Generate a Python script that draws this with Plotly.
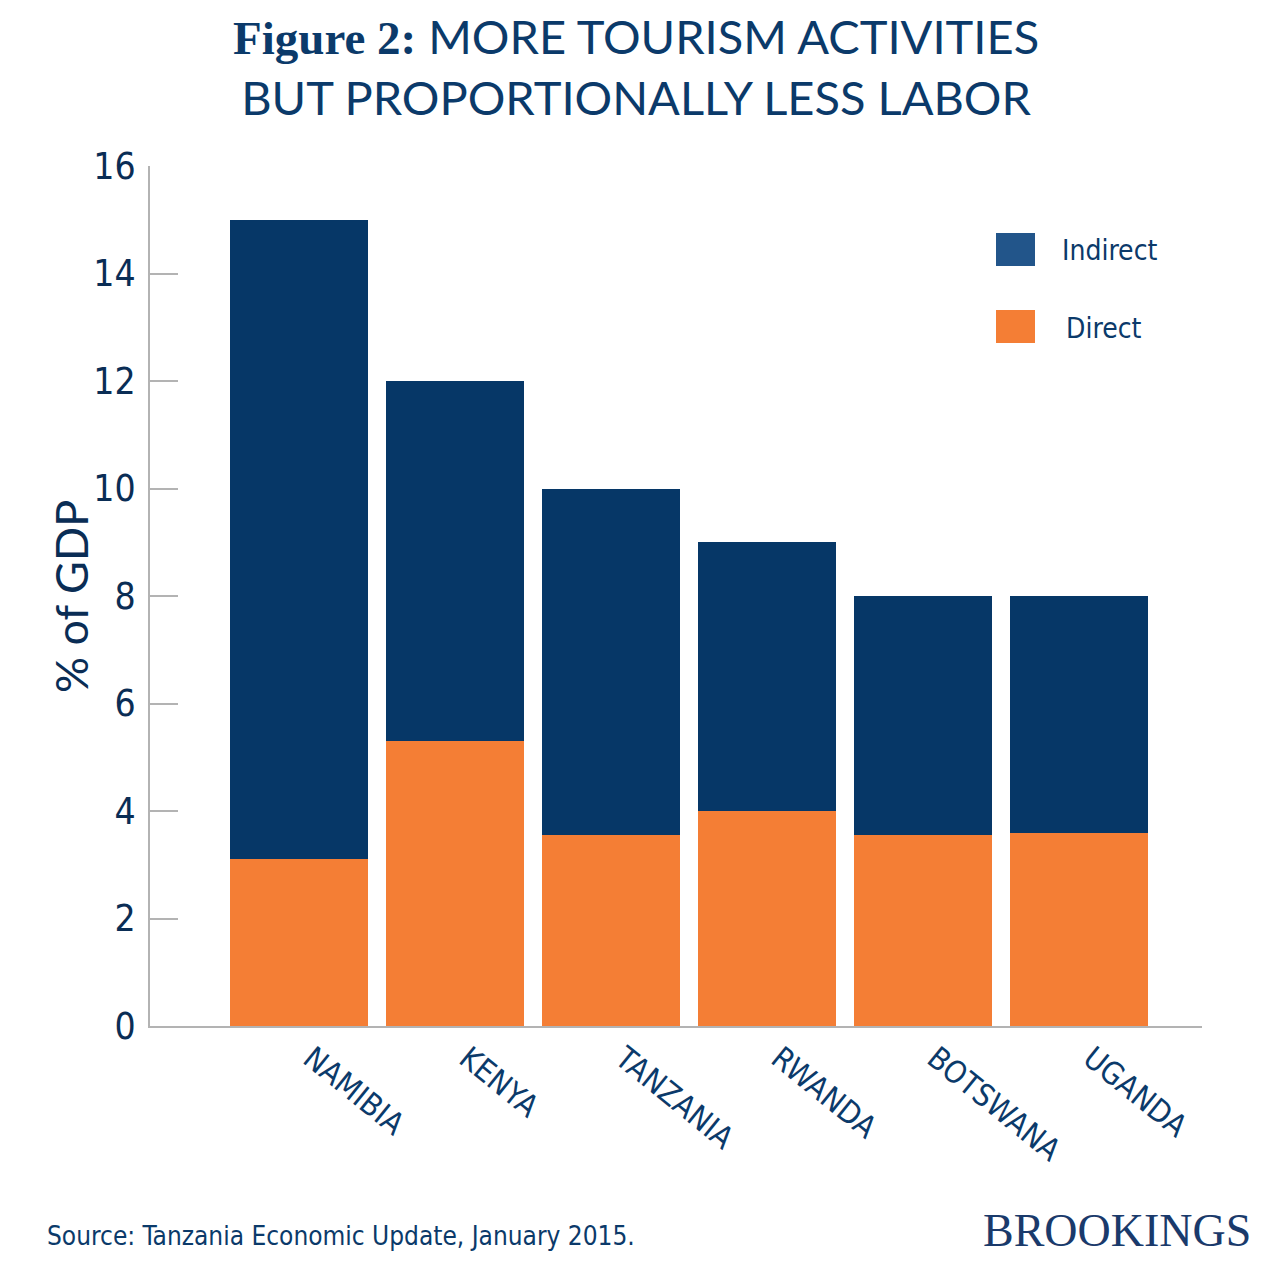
import plotly.graph_objects as go

countries = ["NAMIBIA", "KENYA", "TANZANIA", "RWANDA", "BOTSWANA", "UGANDA"]
direct = [3.1, 5.3, 3.55, 4.0, 3.55, 3.6]
indirect = [11.9, 6.7, 6.45, 5.0, 4.45, 4.4]
y_ticks = [0, 2, 4, 6, 8, 10, 12, 14, 16]

NAVY = "#063767"
ORANGE = "#f47e35"
TEXT = "#0b3a6a"
COND = "Liberation Sans Narrow, DejaVu Sans Condensed, Roboto, sans-serif"

fig = go.Figure()
fig.add_trace(go.Bar(x=countries, y=direct, name="Direct", marker_color=ORANGE,
                     marker_line_width=0, showlegend=False))
fig.add_trace(go.Bar(x=countries, y=indirect, name="Indirect", marker_color=NAVY,
                     marker_line_width=0, showlegend=False))

O = 8  # page body margin
FW = FH = 1263
L, R, T, B = 150 - O, 1202 - O, 166 - O, 1026 - O
W, H = R - L, B - T

def px(x):
    return (x - O - L) / W

def py(y):
    return (B - (y - O)) / H

shapes = [
    dict(type="rect", xref="paper", yref="paper", x0=px(996), x1=px(1035), y0=py(266), y1=py(233),
         fillcolor="#22558a", line_width=0),
    dict(type="rect", xref="paper", yref="paper", x0=px(996), x1=px(1035), y0=py(343), y1=py(310),
         fillcolor=ORANGE, line_width=0),
]

annotations = [
    dict(text="% of GDP", xref="paper", yref="paper", x=px(71), y=py(597), xanchor="center",
         yanchor="middle", textangle=-90, showarrow=False,
         font=dict(family="Lato, Liberation Sans, sans-serif", size=45, color="#0a2d55")),
    dict(text="Indirect", xref="paper", yref="paper", x=px(1060), y=py(251), xanchor="left",
         yanchor="middle", showarrow=False, font=dict(family=COND, size=28, color=TEXT)),
    dict(text="Direct", xref="paper", yref="paper", x=px(1064), y=py(328), xanchor="left",
         yanchor="middle", showarrow=False, font=dict(family=COND, size=28, color=TEXT)),
    dict(text="Source: Tanzania Economic Update, January 2015.", xref="paper", yref="paper",
         x=px(45), y=py(1236), xanchor="left", yanchor="middle", showarrow=False,
         font=dict(family=COND, size=26, color=TEXT)),
    dict(text="BROOKINGS", xref="paper", yref="paper", x=px(1253), y=py(1230), xanchor="right",
         yanchor="middle", showarrow=False,
         font=dict(family="Liberation Serif, DejaVu Serif, serif", size=46, color="#1a3a6b")),
    dict(text="<span style='font-family:Liberation Serif, DejaVu Serif, serif'><b>Figure 2:</b></span> MORE TOURISM ACTIVITIES<br>BUT PROPORTIONALLY LESS LABOR",
         xref="paper", yref="paper", x=px(636), y=py(67), xanchor="center", yanchor="middle",
         showarrow=False, align="center",
         font=dict(family="Lato, Open Sans, sans-serif", size=47, color=TEXT)),
]

fig.update_layout(
    width=FW, height=FH,
    margin=dict(l=L, r=FW - R, t=T, b=FH - B, autoexpand=False),
    barmode="stack", bargap=0.115,
    plot_bgcolor="white", paper_bgcolor="white",
    shapes=shapes, annotations=annotations,
    xaxis=dict(range=[-0.955, 5.789], showline=True, linecolor="#b3b3b3", linewidth=2,
               ticks="", tickangle=39, showgrid=False, zeroline=False, ticklabelshift=12,
               tickfont=dict(family=COND, size=31, color=TEXT)),
    yaxis=dict(range=[0, 16], tickvals=y_ticks, showline=True, linecolor="#b3b3b3", linewidth=2,
               ticks="inside", ticklen=28, tickwidth=2, tickcolor="#b3b3b3",
               showgrid=False, zeroline=False, ticklabelstandoff=5,
               tickfont=dict(family=COND, size=37, color="#0a2d55")),
)

fig.write_html("out.html")
